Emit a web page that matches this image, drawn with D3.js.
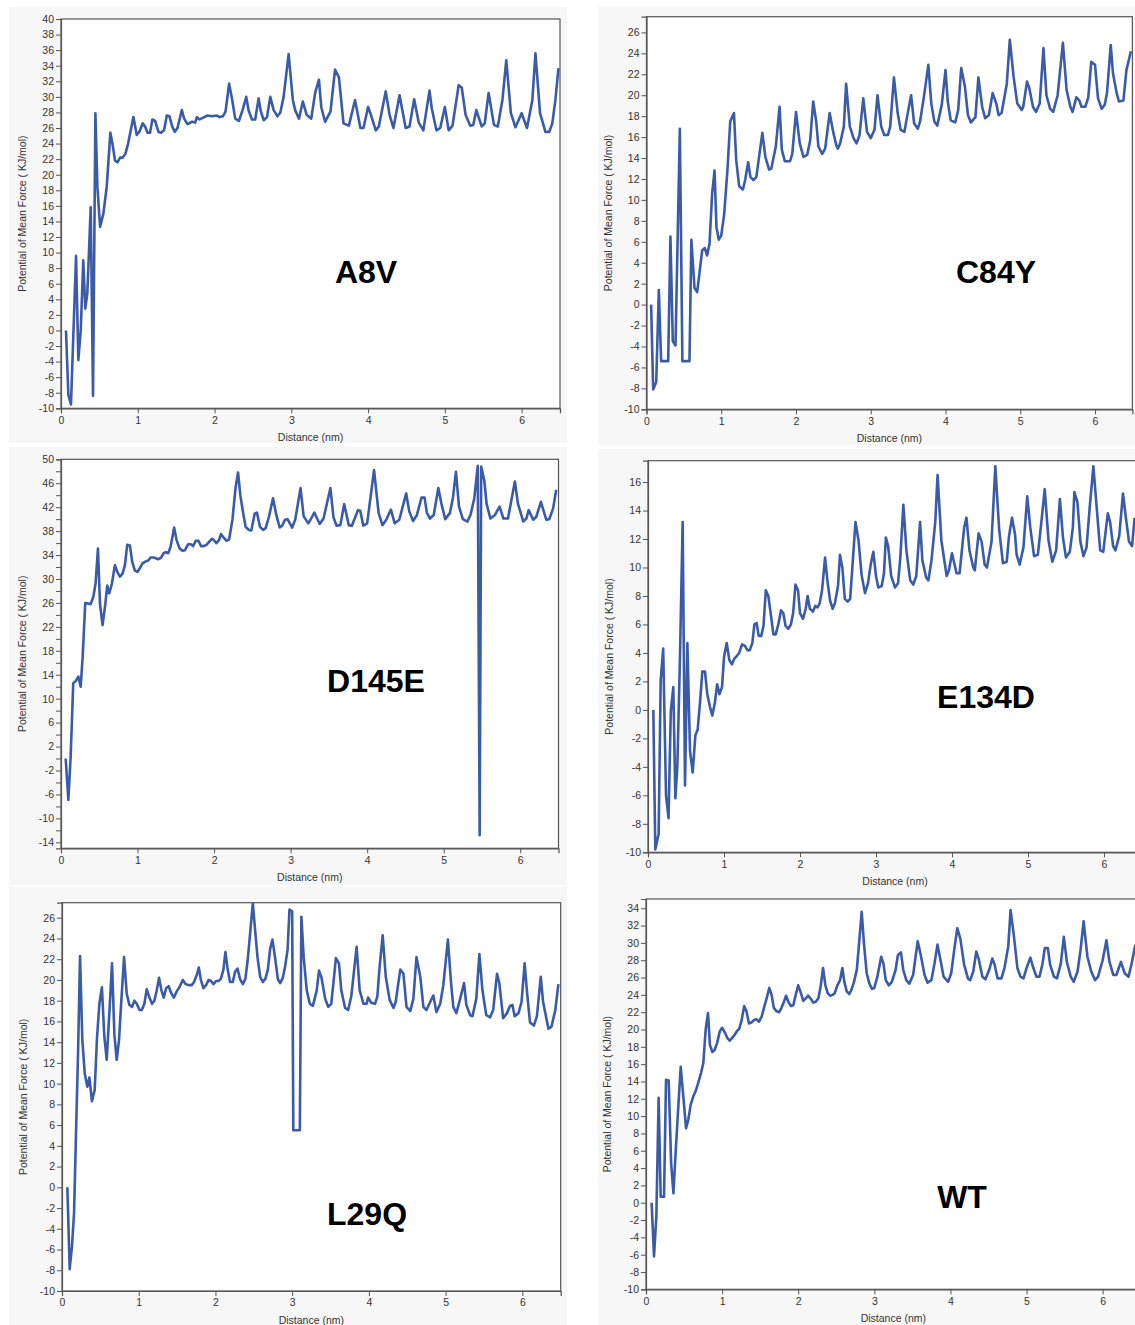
<!DOCTYPE html>
<html>
<head>
<meta charset="utf-8">
<script src="https://cdn.jsdelivr.net/npm/d3@7"></script>
<style>
  body { margin: 0; background: #fff; }
  svg text { font-family: Arial, "Liberation Sans", sans-serif; }
</style>
</head>
<body>
<svg id="chart"></svg>
<script>
// PMF curves, [distance (nm), PMF (kJ/mol)]
const a8v = [[0.065,0],[0.096,-8.3],[0.13,-9.5],[0.196,9.6],[0.226,-3.8],[0.257,0],[0.29,9.0],[0.317,2.8],[0.343,4.8],[0.387,15.8],[0.417,-8.4],[0.448,27.9],[0.474,18.5],[0.509,13.3],[0.552,15.0],[0.596,18.5],[0.643,25.4],[0.67,24.0],[0.704,21.8],[0.735,21.6],[0.77,22.2],[0.804,22.2],[0.84,22.7],[0.874,24.0],[0.943,27.4],[0.987,25.1],[1.02,25.5],[1.065,26.6],[1.1,26.1],[1.126,25.4],[1.16,25.4],[1.19,27.1],[1.226,26.9],[1.27,25.5],[1.304,25.4],[1.343,25.7],[1.378,27.6],[1.413,27.5],[1.448,26.2],[1.483,25.5],[1.517,26.0],[1.574,28.3],[1.604,27.2],[1.648,26.5],[1.709,26.8],[1.748,26.7],[1.77,27.4],[1.804,27.1],[1.865,27.4],[1.909,27.6],[1.965,27.5],[2.03,27.6],[2.065,27.4],[2.109,27.5],[2.143,28.1],[2.19,31.7],[2.23,29.6],[2.27,27.2],[2.317,26.9],[2.365,28.3],[2.413,30.0],[2.443,28.3],[2.487,27.1],[2.53,27.1],[2.574,29.8],[2.604,28.1],[2.64,27.0],[2.683,27.4],[2.726,30.0],[2.77,28.3],[2.82,27.5],[2.857,28.0],[2.9,30.0],[2.965,35.5],[3.02,29.6],[3.05,28.3],[3.1,27.2],[3.15,29.4],[3.2,27.7],[3.26,27.2],[3.31,30.5],[3.36,32.2],[3.39,28.7],[3.44,26.8],[3.51,28.1],[3.57,33.5],[3.62,32.5],[3.68,26.6],[3.75,26.3],[3.83,29.6],[3.9,26.0],[3.94,26.0],[4.0,28.7],[4.03,27.9],[4.1,25.7],[4.14,26.2],[4.23,30.7],[4.28,27.7],[4.33,26.0],[4.41,30.2],[4.49,26.0],[4.54,26.2],[4.6,29.7],[4.66,26.7],[4.72,25.7],[4.8,30.8],[4.83,28.5],[4.89,25.7],[4.94,26.0],[5.0,28.7],[5.05,25.7],[5.1,26.3],[5.18,31.5],[5.22,31.2],[5.27,27.7],[5.33,26.3],[5.37,26.4],[5.41,28.3],[5.48,26.2],[5.52,26.6],[5.57,30.5],[5.64,26.4],[5.69,26.2],[5.75,29.6],[5.8,34.7],[5.86,27.9],[5.92,26.1],[6.0,27.9],[6.07,26.0],[6.14,29.6],[6.18,35.6],[6.24,27.9],[6.31,25.5],[6.36,25.5],[6.4,26.6],[6.44,29.6],[6.48,33.7]];

const c84y = [[0.062,0],[0.089,-8.1],[0.13,-7.4],[0.165,1.4],[0.196,-5.4],[0.29,-5.4],[0.32,6.5],[0.352,-3.5],[0.388,-3.9],[0.446,16.8],[0.48,-5.4],[0.575,-5.4],[0.6,6.2],[0.642,1.6],[0.678,1.2],[0.745,5.2],[0.78,5.4],[0.81,4.7],[0.843,5.8],[0.878,10.6],[0.91,12.8],[0.936,7.4],[0.967,6.2],[1.0,6.6],[1.04,8.7],[1.083,12.9],[1.12,17.5],[1.17,18.3],[1.2,13.8],[1.24,11.3],[1.29,11.0],[1.32,11.9],[1.36,13.6],[1.39,12.2],[1.43,11.9],[1.47,12.2],[1.5,13.8],[1.55,16.4],[1.59,14.1],[1.64,12.9],[1.67,13.0],[1.73,15.1],[1.78,18.9],[1.81,14.8],[1.85,13.7],[1.92,13.7],[1.95,14.4],[2.0,18.4],[2.05,15.4],[2.1,14.1],[2.15,14.3],[2.19,15.7],[2.23,19.4],[2.27,17.5],[2.3,15.1],[2.35,14.4],[2.39,14.9],[2.45,18.3],[2.5,16.4],[2.54,15.2],[2.56,14.9],[2.59,15.4],[2.64,17.0],[2.67,21.1],[2.72,17.0],[2.77,15.9],[2.81,15.4],[2.85,16.2],[2.9,19.7],[2.95,16.5],[3.0,15.9],[3.05,16.7],[3.09,20.0],[3.14,17.0],[3.18,16.2],[3.23,16.2],[3.26,17.0],[3.31,21.7],[3.36,18.3],[3.4,16.7],[3.45,16.5],[3.49,18.1],[3.54,20.0],[3.58,17.3],[3.63,16.8],[3.66,17.5],[3.72,20.3],[3.77,22.9],[3.81,19.2],[3.85,17.5],[3.89,17.1],[3.95,19.1],[4.0,22.4],[4.03,19.4],[4.07,17.6],[4.13,17.4],[4.17,18.6],[4.21,22.6],[4.26,20.8],[4.3,18.1],[4.34,17.4],[4.4,17.9],[4.44,21.7],[4.49,18.9],[4.53,17.8],[4.58,18.1],[4.63,20.2],[4.68,19.2],[4.71,18.1],[4.75,18.3],[4.82,21.1],[4.86,25.3],[4.91,21.8],[4.96,19.2],[5.02,18.6],[5.04,18.9],[5.09,21.3],[5.12,20.7],[5.17,18.9],[5.21,18.4],[5.26,19.2],[5.31,24.5],[5.35,20.0],[5.4,18.7],[5.44,18.4],[5.5,20.0],[5.57,25.0],[5.62,20.5],[5.67,18.9],[5.7,18.4],[5.75,19.8],[5.79,19.5],[5.82,18.9],[5.87,18.9],[5.91,19.8],[5.95,23.2],[6.0,22.9],[6.04,19.7],[6.09,18.7],[6.13,19.1],[6.16,20.2],[6.21,24.8],[6.24,22.1],[6.29,20.2],[6.32,19.4],[6.38,19.5],[6.42,22.4],[6.48,24.2]];

const d145e = [[0.061,0],[0.096,-6.9],[0.126,0.3],[0.16,12.6],[0.196,13.0],[0.226,13.7],[0.257,12.0],[0.283,17.0],[0.317,26.0],[0.352,25.9],[0.387,25.8],[0.422,27.0],[0.452,29.3],[0.483,35.1],[0.509,25.9],[0.543,22.3],[0.578,25.7],[0.604,28.9],[0.63,27.6],[0.665,29.2],[0.704,32.3],[0.735,31.2],[0.77,30.4],[0.804,30.9],[0.835,32.3],[0.865,35.7],[0.9,35.6],[0.93,32.9],[0.965,31.4],[1.0,31.2],[1.03,31.8],[1.065,32.6],[1.1,32.9],[1.14,33.1],[1.17,33.6],[1.2,33.6],[1.235,33.5],[1.265,33.3],[1.304,33.5],[1.34,34.3],[1.37,34.5],[1.4,34.3],[1.43,35.3],[1.457,37.1],[1.478,38.6],[1.51,36.5],[1.55,35.1],[1.587,34.7],[1.617,34.8],[1.66,35.8],[1.696,35.8],[1.726,35.5],[1.76,36.4],[1.796,36.4],[1.83,35.5],[1.865,35.5],[1.9,35.7],[1.935,36.2],[1.97,36.7],[1.99,36.6],[2.03,36.0],[2.065,36.5],[2.09,37.5],[2.126,36.9],[2.16,36.4],[2.196,36.6],[2.24,39.9],[2.28,45.2],[2.313,47.8],[2.343,44.0],[2.38,41.0],[2.413,38.7],[2.456,38.2],[2.487,38.1],[2.53,40.9],[2.56,41.1],[2.6,38.7],[2.64,38.2],[2.674,38.5],[2.717,40.4],[2.77,43.5],[2.813,40.7],[2.857,38.6],[2.89,38.9],[2.926,39.9],[2.96,40.0],[3.02,38.6],[3.06,39.9],[3.13,45.2],[3.17,40.5],[3.23,39.3],[3.26,39.9],[3.31,41.1],[3.38,39.2],[3.43,40.1],[3.52,45.2],[3.56,40.3],[3.6,38.9],[3.65,39.0],[3.7,42.5],[3.76,39.0],[3.8,38.9],[3.88,41.5],[3.91,41.4],[3.95,38.9],[4.0,39.3],[4.09,48.2],[4.15,41.0],[4.2,39.0],[4.25,39.9],[4.31,41.6],[4.36,39.3],[4.42,39.9],[4.51,44.3],[4.55,41.3],[4.6,39.7],[4.65,40.7],[4.71,43.6],[4.75,43.6],[4.78,41.1],[4.82,40.1],[4.87,40.7],[4.93,45.2],[4.97,42.6],[5.02,40.0],[5.08,41.0],[5.12,43.5],[5.16,47.9],[5.2,42.1],[5.25,40.0],[5.31,39.6],[5.35,40.7],[5.4,43.5],[5.445,48.9],[5.47,-12.8],[5.49,48.8],[5.53,46.5],[5.56,42.6],[5.61,40.1],[5.67,40.7],[5.73,42.1],[5.78,40.1],[5.84,40.1],[5.93,46.3],[5.97,42.6],[6.04,39.6],[6.08,40.1],[6.11,41.5],[6.17,39.9],[6.21,40.4],[6.27,42.9],[6.34,39.9],[6.38,40.0],[6.43,41.8],[6.47,44.9]];

const e134d = [[0.07,0],[0.096,-9.8],[0.14,-8.7],[0.167,2.1],[0.2,4.3],[0.237,-6.0],[0.27,-7.6],[0.3,-0.1],[0.333,1.6],[0.36,-6.2],[0.386,-4.0],[0.42,3.5],[0.456,13.2],[0.487,-5.3],[0.518,4.7],[0.553,-2.9],[0.588,-4.4],[0.623,-1.8],[0.653,-1.4],[0.684,0.5],[0.715,2.7],[0.75,2.7],[0.78,1.1],[0.816,0.2],[0.846,-0.4],[0.88,0.5],[0.91,1.8],[0.94,1.1],[0.974,1.6],[1.0,3.7],[1.035,4.7],[1.07,3.5],[1.105,3.2],[1.136,3.6],[1.17,3.8],[1.2,4.0],[1.237,4.6],[1.276,4.5],[1.307,4.2],[1.34,4.2],[1.373,4.7],[1.4,6.0],[1.43,6.1],[1.456,5.2],[1.49,5.2],[1.52,5.9],[1.55,8.4],[1.583,8.0],[1.614,6.8],[1.65,5.3],[1.68,5.3],[1.715,6.0],[1.75,7.0],[1.78,6.8],[1.81,5.9],[1.846,5.7],[1.88,6.0],[1.91,6.8],[1.94,8.8],[1.974,8.4],[2.0,6.8],[2.04,6.4],[2.075,7.1],[2.1,8.0],[2.13,7.1],[2.17,6.9],[2.2,7.3],[2.23,7.2],[2.26,7.5],[2.29,8.4],[2.33,10.7],[2.36,9.1],[2.395,7.7],[2.43,7.1],[2.46,7.5],[2.5,8.7],[2.526,10.9],[2.557,10.0],[2.59,7.8],[2.627,7.6],[2.66,7.8],[2.69,10.1],[2.73,13.2],[2.77,11.9],[2.81,9.5],[2.855,8.2],[2.895,8.9],[2.93,10.2],[2.965,11.1],[3.0,9.4],[3.03,8.6],[3.075,8.7],[3.105,9.6],[3.13,12.1],[3.16,11.5],[3.2,9.4],[3.25,8.6],[3.29,8.9],[3.32,10.7],[3.36,14.4],[3.4,11.2],[3.45,9.1],[3.49,8.8],[3.53,9.4],[3.58,13.2],[3.61,10.5],[3.66,9.3],[3.69,9.1],[3.73,10.5],[3.78,13.2],[3.81,16.5],[3.86,11.9],[3.93,9.4],[3.96,9.8],[4.0,11.0],[4.06,9.6],[4.1,9.6],[4.16,12.8],[4.19,13.5],[4.23,11.2],[4.28,10.0],[4.3,9.8],[4.35,12.4],[4.39,11.8],[4.43,10.2],[4.46,10.0],[4.52,11.8],[4.57,17.1],[4.62,12.7],[4.67,10.3],[4.72,10.4],[4.75,12.2],[4.79,13.5],[4.83,12.3],[4.85,10.9],[4.89,10.2],[4.94,11.4],[4.99,15.0],[5.03,12.8],[5.08,10.8],[5.13,10.9],[5.18,13.4],[5.22,15.5],[5.27,11.9],[5.32,10.4],[5.37,11.2],[5.42,14.8],[5.46,12.1],[5.5,10.7],[5.55,11.1],[5.59,12.8],[5.61,15.3],[5.65,14.6],[5.69,11.8],[5.73,10.8],[5.77,11.4],[5.81,14.1],[5.86,17.1],[5.91,13.8],[5.95,11.2],[5.99,11.1],[6.05,13.8],[6.08,13.2],[6.12,11.5],[6.15,11.2],[6.2,12.2],[6.25,15.2],[6.29,13.4],[6.33,11.8],[6.37,11.5],[6.4,13.4],[6.45,12.4]];

const l29q = [[0.07,0],[0.1,-7.9],[0.13,-5.7],[0.157,-2.5],[0.187,6.5],[0.209,12.9],[0.235,22.3],[0.265,14.2],[0.296,11.0],[0.33,9.7],[0.357,10.6],[0.39,8.3],[0.426,9.4],[0.457,14.5],[0.487,17.7],[0.52,19.3],[0.552,14.5],[0.583,12.3],[0.617,16.8],[0.652,21.6],[0.683,14.7],[0.713,12.3],[0.743,14.2],[0.774,18.1],[0.809,22.2],[0.843,18.7],[0.878,17.6],[0.913,17.4],[0.943,18.0],[0.974,17.7],[1.01,17.1],[1.04,17.1],[1.074,17.7],[1.104,19.1],[1.14,18.3],[1.174,17.7],[1.204,18.0],[1.235,19.0],[1.265,20.2],[1.296,19.0],[1.326,18.3],[1.357,19.2],[1.39,19.4],[1.426,18.7],[1.457,18.3],[1.496,18.9],[1.53,19.3],[1.574,20.0],[1.61,19.6],[1.648,19.5],[1.69,19.5],[1.722,19.8],[1.757,20.5],[1.783,21.2],[1.81,20.0],[1.843,19.2],[1.878,19.5],[1.91,20.0],[1.943,19.9],[1.974,19.6],[2.01,19.9],[2.04,19.9],[2.07,20.1],[2.104,21.0],[2.13,22.7],[2.16,21.0],[2.19,19.8],[2.226,19.8],[2.257,20.8],[2.287,21.1],[2.32,20.1],[2.357,19.6],[2.39,20.1],[2.42,21.9],[2.452,24.5],[2.487,27.4],[2.517,24.8],[2.548,22.2],[2.583,20.3],[2.617,19.8],[2.65,20.1],[2.683,21.0],[2.713,23.0],[2.743,23.9],[2.778,22.1],[2.813,20.1],[2.843,19.7],[2.878,20.2],[2.91,21.4],[2.94,22.9],[2.965,26.8],[3.0,26.6],[3.015,5.5],[3.1,5.5],[3.12,26.1],[3.15,22.2],[3.19,19.0],[3.23,17.7],[3.27,17.5],[3.32,19.0],[3.35,20.9],[3.38,20.3],[3.43,18.2],[3.47,17.4],[3.51,17.7],[3.57,22.1],[3.61,21.6],[3.64,19.0],[3.69,17.3],[3.73,17.1],[3.77,18.4],[3.84,23.2],[3.88,19.0],[3.93,17.7],[3.97,17.7],[3.99,18.3],[4.03,17.8],[4.08,17.7],[4.11,18.4],[4.14,21.3],[4.18,24.3],[4.22,20.3],[4.27,18.1],[4.32,17.3],[4.35,17.9],[4.38,19.5],[4.41,21.0],[4.45,20.6],[4.49,17.4],[4.54,17.0],[4.58,18.2],[4.62,22.2],[4.67,20.3],[4.71,17.4],[4.75,17.1],[4.8,17.9],[4.84,18.5],[4.88,16.9],[4.93,17.7],[4.97,19.5],[5.03,23.9],[5.07,19.8],[5.1,17.4],[5.14,16.8],[5.19,18.2],[5.24,19.7],[5.27,17.6],[5.32,16.6],[5.35,16.5],[5.4,18.2],[5.44,22.5],[5.48,19.0],[5.53,16.6],[5.58,16.4],[5.62,17.1],[5.67,20.6],[5.7,19.7],[5.75,16.3],[5.8,16.8],[5.84,17.5],[5.87,17.6],[5.9,16.5],[5.95,16.8],[5.99,17.9],[6.03,21.6],[6.06,18.9],[6.1,15.9],[6.15,15.6],[6.19,16.5],[6.24,20.3],[6.27,17.9],[6.34,15.3],[6.38,15.5],[6.43,17.1],[6.47,19.6]];

const wt = [[0.074,0],[0.105,-6.2],[0.136,-1.6],[0.166,12.1],[0.193,0.7],[0.237,0.7],[0.263,14.2],[0.298,14.1],[0.33,4.6],[0.36,1.1],[0.394,6.5],[0.43,11.9],[0.456,15.7],[0.49,12.3],[0.526,8.6],[0.556,9.6],[0.587,11.3],[0.622,12.3],[0.657,13.0],[0.692,14.0],[0.723,15.0],[0.753,16.1],[0.784,20.0],[0.815,21.9],[0.84,18.2],[0.872,17.4],[0.9,17.6],[0.933,18.4],[0.97,19.8],[1.0,20.2],[1.04,19.6],[1.07,19.0],[1.1,18.7],[1.13,19.0],[1.165,19.4],[1.195,19.8],[1.226,20.1],[1.257,21.1],[1.29,22.7],[1.32,22.1],[1.353,20.7],[1.384,20.8],[1.42,21.1],[1.45,21.2],[1.485,20.9],[1.52,21.5],[1.55,22.5],[1.585,23.6],[1.62,24.8],[1.65,24.0],[1.68,22.5],[1.717,22.1],[1.75,22.0],[1.78,22.5],[1.813,23.2],[1.84,23.9],[1.87,23.2],[1.905,22.7],[1.936,22.8],[1.967,24.0],[2.0,25.1],[2.036,24.2],[2.067,23.3],[2.1,23.6],[2.13,23.9],[2.16,23.6],[2.2,23.1],[2.23,23.2],[2.265,23.6],[2.295,25.0],[2.326,27.1],[2.357,25.1],[2.387,24.2],[2.418,23.9],[2.453,24.0],[2.48,24.2],[2.514,25.1],[2.55,25.7],[2.58,27.1],[2.606,25.5],[2.637,24.4],[2.672,24.1],[2.7,24.6],[2.733,25.5],[2.77,26.9],[2.8,30.0],[2.834,33.6],[2.865,29.8],[2.9,26.5],[2.935,25.3],[2.97,24.7],[3.0,24.8],[3.04,26.1],[3.09,28.4],[3.12,27.6],[3.15,25.7],[3.19,25.1],[3.23,25.5],[3.28,26.9],[3.31,28.6],[3.35,28.9],[3.38,26.9],[3.42,25.7],[3.46,25.3],[3.51,26.3],[3.57,30.2],[3.61,28.6],[3.66,26.3],[3.7,25.4],[3.75,25.7],[3.79,27.6],[3.83,29.8],[3.87,28.0],[3.91,26.1],[3.97,25.5],[4.01,26.5],[4.05,29.2],[4.09,31.7],[4.13,30.5],[4.18,27.5],[4.23,25.9],[4.26,25.7],[4.3,26.7],[4.34,29.0],[4.37,28.2],[4.42,26.1],[4.46,25.8],[4.51,26.9],[4.55,28.2],[4.58,27.5],[4.62,25.9],[4.67,25.9],[4.71,27.1],[4.76,29.6],[4.79,33.8],[4.83,31.1],[4.88,27.1],[4.92,26.1],[4.96,25.9],[5.0,27.1],[5.05,28.3],[5.09,27.1],[5.13,26.1],[5.17,26.1],[5.21,27.6],[5.24,29.4],[5.28,29.4],[5.31,27.5],[5.36,26.1],[5.4,25.9],[5.45,27.6],[5.49,30.7],[5.53,27.8],[5.58,26.1],[5.62,25.5],[5.67,26.7],[5.71,29.2],[5.75,32.5],[5.8,28.4],[5.85,26.7],[5.9,25.7],[5.94,26.1],[6.0,28.0],[6.05,30.3],[6.09,27.8],[6.14,26.3],[6.18,26.3],[6.24,27.8],[6.29,26.5],[6.34,26.1],[6.38,27.6],[6.43,29.8]];

const xTicks = [0, 1, 2, 3, 4, 5, 6];
const xTitle = "Distance (nm)";
const yTitle = "Potential of Mean Force ( KJ/mol)";

// layout of the six panels (pixels): bg = [x, y, w, h], plot = [left, top, right, bottom]
const panels = [
  {name: "A8V",   data: a8v,   yDomain: [-10, 40],    yTicks: d3.range(-10, 41, 2), labelEvery: 1,
   bg: [9, 7, 558, 436],     plot: [61, 19, 560, 408.3],       label: [366, 283]},
  {name: "C84Y",  data: c84y,  yDomain: [-10, 27.5],  yTicks: d3.range(-10, 27, 2), labelEvery: 1,
   bg: [598, 7, 537, 438],   plot: [646.5, 16.7, 1132.4, 409.3], label: [996, 283]},
  {name: "D145E", data: d145e, yDomain: [-15, 50],    yTicks: d3.range(50, -15, -2), labelEvery: 2,
   bg: [9, 447, 558, 438],   plot: [61, 459.3, 558.5, 848.3],  label: [376, 692]},
  {name: "E134D", data: e134d, yDomain: [-10, 17.5],  yTicks: d3.range(-10, 17, 2), labelEvery: 1,
   bg: [598, 449, 537, 438], plot: [648, 460.7, 1142, 852.3],  label: [986, 708]},
  {name: "L29Q",  data: l29q,  yDomain: [-10, 27.45], yTicks: d3.range(-10, 27, 2), labelEvery: 1,
   bg: [9, 887, 558, 438],   plot: [62, 902.7, 560.7, 1291],   label: [367, 1225]},
  {name: "WT",    data: wt,    yDomain: [-10, 35.07], yTicks: d3.range(-10, 35, 2), labelEvery: 1,
   bg: [598, 887, 537, 438], plot: [646, 899, 1140.7, 1289.3], label: [962, 1208]}
];

const lineColor = "#3a5ba8";
const axisColor = "#555";

const svg = d3.select("#chart")
  .attr("width", 1135)
  .attr("height", 1325);

panels.forEach((p, i) => {
  const [l, t, r, b] = p.plot;
  const g = svg.append("g").attr("class", "panel");

  // light grey panel background
  g.append("rect")
    .attr("x", p.bg[0]).attr("y", p.bg[1])
    .attr("width", p.bg[2]).attr("height", p.bg[3])
    .attr("fill", "#f7f7f7");

  const x = d3.scaleLinear().domain([0, 6.5]).range([l, r]);
  const y = d3.scaleLinear().domain(p.yDomain).range([b, t]);

  // white plot area with frame
  g.append("rect")
    .attr("x", l).attr("y", t)
    .attr("width", r - l).attr("height", b - t)
    .attr("fill", "#fff")
    .attr("stroke", axisColor)
    .attr("stroke-width", 1.2);

  g.append("clipPath").attr("id", "clip" + i)
    .append("rect")
    .attr("x", l).attr("y", t)
    .attr("width", r - l).attr("height", b - t);

  const line = d3.line().x(d => x(d[0])).y(d => y(d[1]));

  g.append("path")
    .datum(p.data)
    .attr("clip-path", `url(#clip${i})`)
    .attr("fill", "none")
    .attr("stroke", lineColor)
    .attr("stroke-width", 2.6)
    .attr("stroke-linejoin", "round")
    .attr("d", line);

  // axes
  const yAxis = d3.axisLeft(y)
    .tickValues(p.yTicks)
    .tickSize(5)
    .tickPadding(2)
    .tickFormat((d, k) => k % p.labelEvery === 0 ? d : "");
  const yg = g.append("g")
    .attr("transform", `translate(${l},0)`)
    .call(yAxis);

  const xAxis = d3.axisBottom(x)
    .tickValues(xTicks)
    .tickSize(5)
    .tickPadding(3)
    .tickFormat(d3.format("d"));
  const xg = g.append("g")
    .attr("transform", `translate(0,${b})`)
    .call(xAxis);

  [yg, xg].forEach(a => {
    a.select(".domain").attr("stroke", axisColor).attr("stroke-width", 1.2);
    a.selectAll(".tick line").attr("stroke", axisColor);
    a.selectAll("text")
      .attr("fill", "#333")
      .style("font-size", "10.5px")
      .style("font-family", "Arial, 'Liberation Sans', sans-serif");
  });

  g.append("text")
    .attr("x", (l + r) / 2)
    .attr("y", b + 33)
    .attr("text-anchor", "middle")
    .attr("fill", "#333")
    .style("font-size", "10.5px")
    .text(xTitle);

  g.append("text")
    .attr("transform", `translate(${l - 35},${(t + b) / 2}) rotate(-90)`)
    .attr("text-anchor", "middle")
    .attr("fill", "#333")
    .style("font-size", "10.5px")
    .text(yTitle);

  g.append("text")
    .attr("x", p.label[0])
    .attr("y", p.label[1])
    .attr("text-anchor", "middle")
    .attr("fill", "#000")
    .style("font-size", "32px")
    .style("font-weight", "bold")
    .text(p.name);
});
</script>
</body>
</html>
